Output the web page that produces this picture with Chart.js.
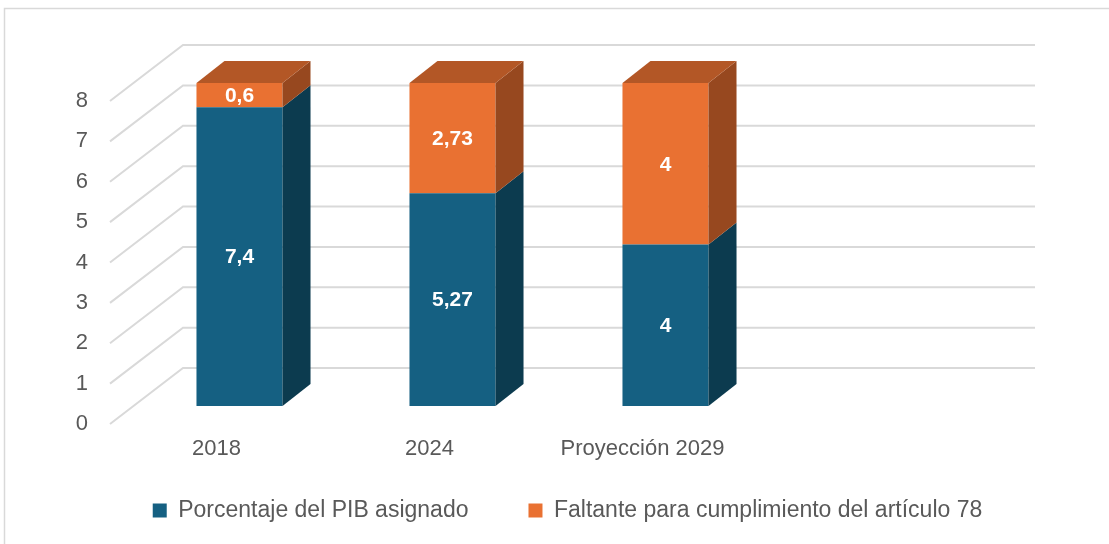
<!DOCTYPE html>
<html><head><meta charset="utf-8">
<script src="https://cdn.jsdelivr.net/npm/chart.js@4/dist/chart.umd.min.js"></script>
<style>html,body{margin:0;padding:0;background:#fff;overflow:hidden}</style>
</head><body>
<canvas id="c" width="1109" height="544" style="width:1109px;height:544px;display:block"></canvas>
<script>
const categories = ['2018', '2024', 'Proyección 2029', ''];
const pibAsignado = [7.4, 5.27, 4, null];
const faltante = [0.6, 2.73, 4, null];
const yTicks = [0, 1, 2, 3, 4, 5, 6, 7, 8];
const seriesNames = ['Porcentaje del PIB asignado', 'Faltante para cumplimiento del artículo 78'];

const FRONT = ['#156082', '#E97132'];
const SIDE = ['#0C3B4F', '#97481F'];
const TOP = ['#124F6B', '#B35726'];
const FONT = "'Liberation Sans', Arial, sans-serif";
const GRID = '#d9d9d9';
const WALL = {dx: 73, dy: -56};
const BAR_SHIFT = {dx: 23, dy: -18};
const BAR_DEPTH = {dx: 28, dy: -22};
const PAD_LEFT = 26;

const fmt = v => String(v).replace('.', ',');

const threeD = {
  id: 'threeD',
  beforeDraw(chart) {
    const ctx = chart.ctx;
    ctx.save();
    ctx.strokeStyle = GRID;
    ctx.lineWidth = 1.5;
    ctx.strokeRect(4.5, 8.5, 1300, 700);
    ctx.restore();
  },
  beforeDatasetsDraw(chart) {
    const ctx = chart.ctx, ys = chart.scales.y, a = chart.chartArea;
    ctx.save();
    ctx.strokeStyle = GRID;
    ctx.lineWidth = 2;
    yTicks.forEach(t => {
      const py = ys.getPixelForValue(t);
      ctx.beginPath();
      ctx.moveTo(a.left, py);
      ctx.lineTo(a.left + WALL.dx, py + WALL.dy);
      ctx.lineTo(a.right + WALL.dx, py + WALL.dy);
      ctx.stroke();
    });
    ctx.restore();
    ctx.save();
    ctx.translate(BAR_SHIFT.dx, BAR_SHIFT.dy);
  },
  afterDatasetsDraw(chart) {
    const ctx = chart.ctx;
    const nd = chart.data.datasets.length;
    for (let di = 0; di < nd; di++) {
      const meta = chart.getDatasetMeta(di);
      meta.data.forEach((bar, i) => {
        const v = chart.data.datasets[di].data[i];
        if (v === null || v === undefined) return;
        const p = bar.getProps(['x', 'y', 'base', 'width'], true);
        const left = p.x - p.width / 2, right = p.x + p.width / 2;
        const top = Math.min(p.y, p.base), bottom = Math.max(p.y, p.base);
        ctx.fillStyle = SIDE[di];
        ctx.beginPath();
        ctx.moveTo(right, top);
        ctx.lineTo(right + BAR_DEPTH.dx, top + BAR_DEPTH.dy);
        ctx.lineTo(right + BAR_DEPTH.dx, bottom + BAR_DEPTH.dy);
        ctx.lineTo(right, bottom);
        ctx.closePath();
        ctx.fill();
        let isTop = true;
        for (let dj = di + 1; dj < nd; dj++) {
          const w = chart.data.datasets[dj].data[i];
          if (w !== null && w !== undefined && w !== 0) isTop = false;
        }
        if (isTop) {
          ctx.fillStyle = TOP[di];
          ctx.beginPath();
          ctx.moveTo(left, top);
          ctx.lineTo(right, top);
          ctx.lineTo(right + BAR_DEPTH.dx, top + BAR_DEPTH.dy);
          ctx.lineTo(left + BAR_DEPTH.dx, top + BAR_DEPTH.dy);
          ctx.closePath();
          ctx.fill();
        }
        ctx.fillStyle = '#ffffff';
        ctx.font = "bold 21px " + FONT;
        ctx.textAlign = 'center';
        ctx.textBaseline = 'middle';
        ctx.fillText(fmt(v), p.x, (top + bottom) / 2 + 1);
      });
    }
    ctx.restore();
  }
};

new Chart(document.getElementById('c'), {
  type: 'bar',
  data: {
    labels: categories,
    datasets: [
      {label: seriesNames[0], data: pibAsignado, backgroundColor: FRONT[0], borderWidth: 0, clip: false},
      {label: seriesNames[1], data: faltante, backgroundColor: FRONT[1], borderWidth: 0, clip: false}
    ]
  },
  options: {
    responsive: false,
    animation: false,
    devicePixelRatio: 1,
    categoryPercentage: 1,
    barPercentage: 0.404,
    layout: {padding: {left: PAD_LEFT, right: 0, top: 101, bottom: 12}},
    scales: {
      x: {
        stacked: true,
        grid: {display: false, drawTicks: false},
        border: {display: false},
        ticks: {color: '#595959', font: {family: FONT, size: 22}, padding: -38, mirror: true, maxRotation: 0, autoSkip: false},
        afterFit(s) { s.height = 15; }
      },
      y: {
        stacked: true,
        min: 0, max: 8,
        afterBuildTicks(s) { s.ticks = yTicks.map(v => ({value: v})); },
        grid: {display: false, drawTicks: false},
        border: {display: false},
        ticks: {color: '#595959', font: {family: FONT, size: 22}, padding: 22},
        afterFit(s) { s.width = 110 - PAD_LEFT; }
      },
      spacer: {
        type: 'linear',
        position: 'right',
        min: 0, max: 1,
        grid: {display: false, drawTicks: false},
        border: {display: false},
        ticks: {display: false},
        afterFit(s) { s.width = 147; }
      }
    },
    plugins: {
      legend: {
        position: 'bottom',
        maxHeight: 107,
        labels: {color: '#595959', font: {family: FONT, size: 23}, boxWidth: 14, boxHeight: 14, padding: 60}
      },
      tooltip: {enabled: false}
    }
  },
  plugins: [threeD]
});
</script>
</body></html>
